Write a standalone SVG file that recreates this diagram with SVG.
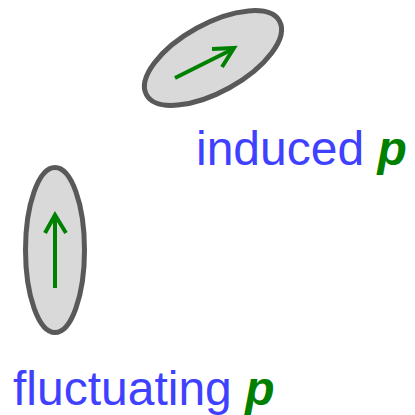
<svg xmlns="http://www.w3.org/2000/svg" width="415" height="415" viewBox="0 0 415 415">
<style>
.mol{fill:#d9d9d9;stroke:#595959;stroke-width:5}
.vec{fill:none;stroke:#008000;stroke-width:4;stroke-linecap:butt;stroke-linejoin:miter}
.lbl{font-family:"Liberation Sans",Arial,sans-serif;font-size:48px;fill:#4040ff}
.p{fill:#008000;font-weight:bold;font-style:italic}
</style>
<rect width="415" height="415" fill="#ffffff"/>
<g id="induced">
<ellipse class="mol" cx="213" cy="58" rx="76" ry="34" transform="rotate(-29 213 58)"/>
<g class="vec">
<path d="M175 78 L233 49"/>
<path d="M212 49 L234 48 L222 67"/>
</g>
</g>
<g id="fluctuating">
<ellipse class="mol" cx="55" cy="250" rx="29.5" ry="82.5"/>
<g class="vec">
<path d="M55 288 L55 216"/>
<path d="M45 233 L55 215 L66 233"/>
</g>
</g>
<text class="lbl" x="196" y="165">induced <tspan class="p">p</tspan></text>
<text class="lbl" x="13" y="405">fluctuating <tspan class="p">p</tspan></text>
</svg>
